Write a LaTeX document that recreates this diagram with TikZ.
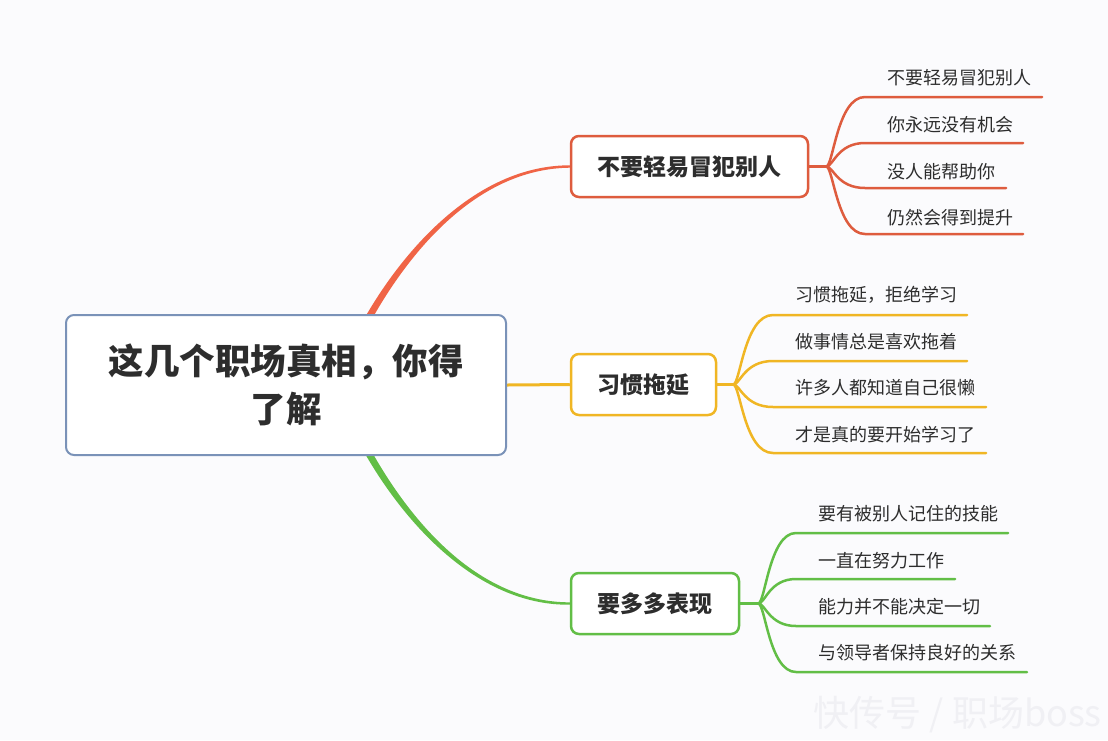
\documentclass[tikz,border=0pt]{standalone}
\usepackage{fontspec}
\setmainfont{Noto Sans CJK SC}
\usetikzlibrary{calc,backgrounds}
\definecolor{bg}{RGB}{251,251,253}
\definecolor{mainb}{RGB}{122,146,184}
\definecolor{redc}{RGB}{222,92,62}
\definecolor{redm}{RGB}{240,100,70}
\definecolor{yelc}{RGB}{240,182,36}
\definecolor{grnc}{RGB}{98,190,70}
\definecolor{txt}{RGB}{45,45,45}
\definecolor{wm}{RGB}{240,240,244}
\tikzset{
  mainnode/.style={draw=mainb, line width=2, rounded corners=8, fill=white,
    minimum width=440, minimum height=140, align=center, inner sep=0,
    text=txt, font=\fontsize{35.5}{48}\selectfont\bfseries},
  branch/.style={line width=2.5, rounded corners=8, fill=white,
    minimum height=61, inner sep=0, text=txt,
    font=\fontsize{23}{27}\selectfont\bfseries},
  leaf/.style={anchor=west, inner sep=0, text=txt, font=\fontsize{18}{22}\selectfont},
  fan/.style={line width=2.5, line cap=round},
}
% #1 name, #2 junction, #3 text x, #4 text y, #5 line y, #6 line end x, #7 text, #8 colour
\newcommand{\mmleaf}[8]{%
  \node[leaf] (#1) at (#3,#4) {#7};
  \coordinate (#1e) at (#6,#5);
  \begin{pgfonlayer}{background}
  \draw[fan, #8] (#2) .. controls ($(#2)+(7,0)$) and ($(#2 |- #1e)+(11,0)$) .. ($(#1.west |- #1e)+(-22,0)$) -- (#1e);
  \end{pgfonlayer}
}
\begin{document}
\begin{tikzpicture}[x=1pt,y=-1pt]
\begin{pgfonlayer}{background}
\fill[bg] (0,0) rectangle (1108,740);
\end{pgfonlayer}
\useasboundingbox (0,0) rectangle (1108,740);

\node[mainnode] (main) at (286,385) {这几个职场真相，你得\\了解};
\node[branch, draw=redc, minimum width=237] (r) at (689.5,166.5) {不要轻易冒犯别人};
\node[branch, draw=yelc, minimum width=145] (y) at (643.5,384.5) {习惯拖延};
\node[branch, draw=grnc, minimum width=168] (g) at (655,603.5) {要多多表现};

\begin{pgfonlayer}{background}
\fill[redm] ($(main.north)+(79.0,3.3)$) .. controls (407.5,243.6) and (480,165.3) .. ($(r.west)+(0,-1.2)$)
   -- ($(r.west)+(0,1.2)$) .. controls (480,168.7) and (412.5,246.4) .. ($(main.north)+(85.0,6.7)$) -- cycle;
\fill[grnc] ($(main.south)+(79.0,-2.3)$) .. controls (407.5,527.4) and (480,605.7) .. ($(g.west)+(0,1.2)$)
   -- ($(g.west)+(0,-1.2)$) .. controls (480,602.3) and (412.5,524.6) .. ($(main.south)+(85.0,-5.7)$) -- cycle;
\draw[yelc, line width=3] (main.east) -- (y.west);
\coordinate (rj) at ($(r.east)+(17,0)$);
\coordinate (yj) at ($(y.east)+(16,0)$);
\coordinate (gj) at ($(g.east)+(18,0)$);
\draw[redc, line width=2.5] (r.east) -- (rj);
\draw[yelc, line width=2.5] (y.east) -- (yj);
\draw[grnc, line width=2.5] (g.east) -- (gj);
\end{pgfonlayer}

\mmleaf{r1}{rj}{887}{78}{97}{1042}{不要轻易冒犯别人}{redc}
\mmleaf{r2}{rj}{887}{125}{143}{1023}{你永远没有机会}{redc}
\mmleaf{r3}{rj}{887}{172}{188}{1006}{没人能帮助你}{redc}
\mmleaf{r4}{rj}{887}{218}{234}{1023}{仍然会得到提升}{redc}

\mmleaf{y1}{yj}{795}{295}{315}{967}{习惯拖延，拒绝学习}{yelc}
\mmleaf{y2}{yj}{795}{342}{361}{967}{做事情总是喜欢拖着}{yelc}
\mmleaf{y3}{yj}{795}{388}{407}{986}{许多人都知道自己很懒}{yelc}
\mmleaf{y4}{yj}{795}{435}{453}{986}{才是真的要开始学习了}{yelc}

\mmleaf{g1}{gj}{818}{514}{533}{1008}{要有被别人记住的技能}{grnc}
\mmleaf{g2}{gj}{818}{561}{579}{955}{一直在努力工作}{grnc}
\mmleaf{g3}{gj}{818}{607}{626}{990}{能力并不能决定一切}{grnc}
\mmleaf{g4}{gj}{818}{653}{672}{1027}{与领导者保持良好的关系}{grnc}

\node[anchor=east, inner sep=0, text=wm, font=\fontsize{36}{40}\selectfont] (wmark) at (1102,715) {快传号 / 职场boss};
\end{tikzpicture}
\end{document}
